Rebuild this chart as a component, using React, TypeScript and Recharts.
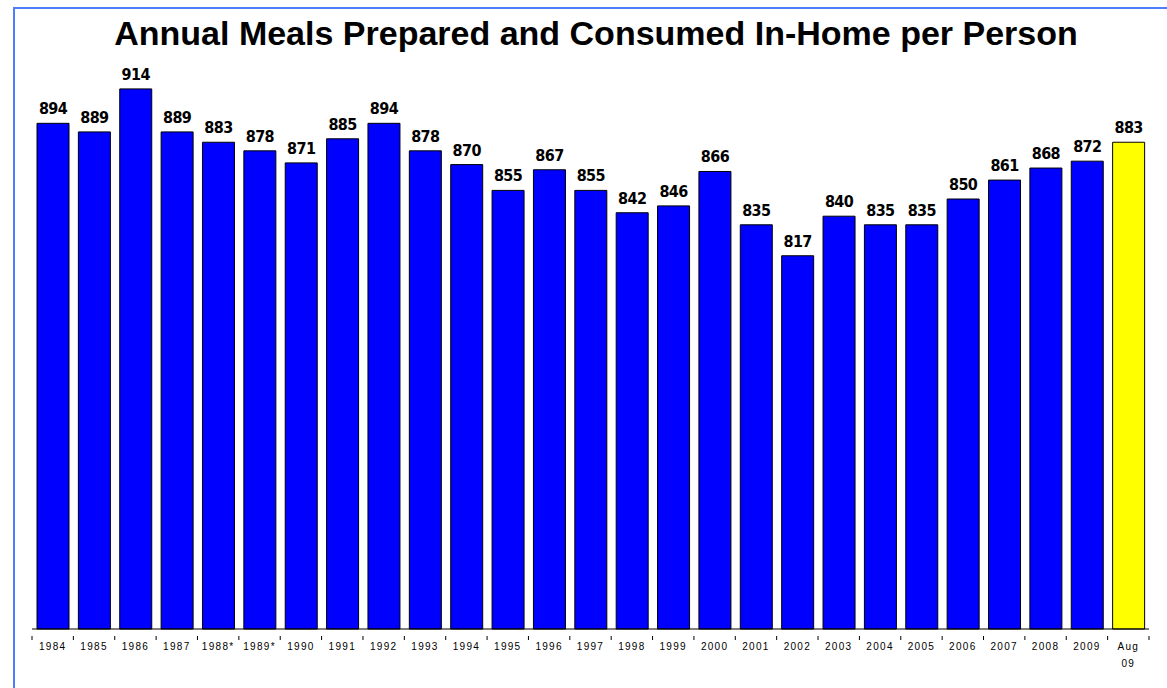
import React from 'react';
import { BarChart, Bar, XAxis, YAxis, Cell, LabelList } from 'recharts';

const years = [
    '1984', '1985', '1986', '1987', '1988*', '1989*', '1990', '1991', '1992',
    '1993', '1994', '1995', '1996', '1997', '1998', '1999', '2000', '2001',
    '2002', '2003', '2004', '2005', '2006', '2007', '2008', '2009', 'Aug 09'
];
const meals = [
    894, 889, 914, 889, 883, 878, 871, 885, 894, 878, 870, 855, 867, 855,
    842, 846, 866, 835, 817, 840, 835, 835, 850, 861, 868, 872, 883
];
const highlight = 'Aug 09';

const data = years.map((year, i) => ({ year, meals: meals[i] }));

const W = 1167;
const H = 688;
const margin = { top: 27, right: 18, left: 32, bottom: 19 };
const band = (W - margin.left - margin.right) / years.length;

const YearTick = (props: any) => {
    const { x, y, payload, index } = props;
    const parts = String(payload.value).split(' ');
    const isLast = index === years.length - 1;
    return (
        <g>
            <line x1={x - band / 2} y1={y - 1} x2={x - band / 2} y2={y + 3} stroke="#000" />
            {isLast && <line x1={x + band / 2} y1={y - 1} x2={x + band / 2} y2={y + 3} stroke="#000" />}
            <text
                x={x}
                y={y + 13}
                textAnchor="middle"
                fontSize={10}
                letterSpacing={1.3}
                fontFamily="'Liberation Sans', Arial, sans-serif"
                fill="#000"
            >
                {parts.map((p, i) => (
                    <tspan key={i} x={x} dy={i === 0 ? 0 : 17}>{p}</tspan>
                ))}
            </text>
        </g>
    );
};

export default function App() {
    return (
        <div style={{ position: 'absolute', top: 0, left: 0, width: W, height: H, background: '#fff', overflow: 'hidden' }}>
            <div
                style={{
                    position: 'absolute',
                    left: 13,
                    top: 7,
                    width: W,
                    height: H,
                    borderTop: '2px solid #4f7dff',
                    borderLeft: '2px solid #4f7dff'
                }}
            />
            <div
                style={{
                    position: 'absolute',
                    left: 0,
                    top: 13,
                    width: 1192,
                    textAlign: 'center',
                    fontFamily: "'Liberation Sans', Arial, sans-serif",
                    fontWeight: 'bold',
                    fontSize: 34,
                    lineHeight: '40px',
                    color: '#000'
                }}
            >
                Annual Meals Prepared and Consumed In-Home per Person
            </div>
            <div style={{ position: 'absolute', left: 0, top: 0 }}>
                <BarChart width={W} height={H} data={data} margin={margin} barSize={32}>
                    <YAxis hide domain={[600, 950]} />
                    <XAxis
                        dataKey="year"
                        interval={0}
                        height={40}
                        axisLine={{ stroke: '#000' }}
                        tickLine={false}
                        tick={<YearTick />}
                    />
                    <Bar dataKey="meals" stroke="#000" strokeWidth={1} isAnimationActive={false}>
                        {data.map((d) => (
                            <Cell key={d.year} fill={d.year === highlight ? '#ffff00' : '#0000ff'} />
                        ))}
                        <LabelList
                            dataKey="meals"
                            position="top"
                            offset={9}
                            fill="#000"
                            fontSize={16}
                            fontWeight="bold"
                            letterSpacing={-0.6}
                            fontFamily="'Liberation Sans Narrow', 'DejaVu Sans Condensed', sans-serif"
                        />
                    </Bar>
                </BarChart>
            </div>
        </div>
    );
}
